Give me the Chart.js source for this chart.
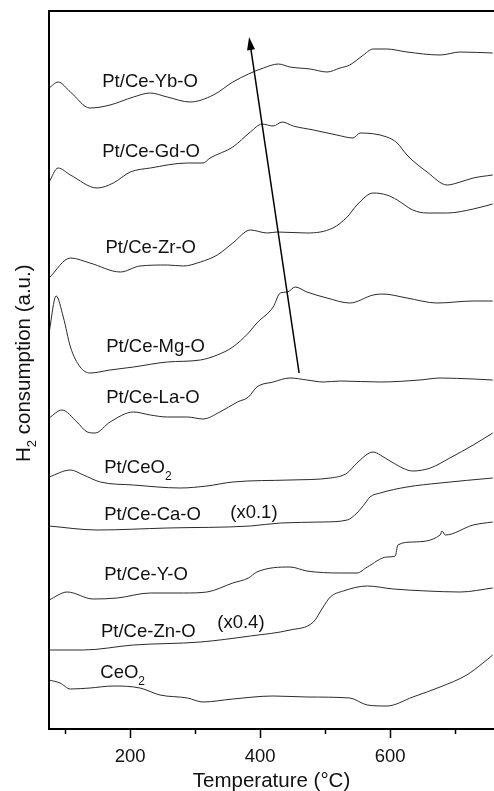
<!DOCTYPE html>
<html>
<head>
<meta charset="utf-8">
<script src="https://cdn.jsdelivr.net/npm/chart.js@4/dist/chart.umd.min.js"></script>
<style>
  body { margin: 0; background: #fff; }
  #wrap { width: 494px; height: 791px; }
</style>
</head>
<body>
<div id="wrap"><canvas id="tpr" width="494" height="791"></canvas></div>
<script>
// temperature (C) and signal (a.u., offset stacked) for each TPR profile
const ybT = [75, 89, 108, 138, 169, 205, 231, 257, 292, 328, 358, 382, 405, 428, 446, 477, 503, 523, 538, 557, 574, 595, 626, 677, 708, 758];
const ybV = [641, 647, 637, 621, 624, 632, 636, 632, 627, 634, 647, 655, 661, 665, 662, 660, 657, 661, 664, 673, 680, 680, 677, 674, 677, 676];

const gdT = [75, 89, 108, 149, 174, 200, 231, 288, 312, 323, 358, 385, 403, 420, 434, 451, 482, 518, 543, 554, 595, 611, 626, 657, 688, 703, 728, 758];
const gdV = [547, 561, 554, 541, 546, 557, 561, 566, 566, 571, 582, 597, 605, 603, 607, 603, 599, 594, 591, 596, 592, 586, 574, 557, 544, 546, 551, 554];

const zrT = [75, 108, 138, 185, 215, 257, 282, 308, 334, 358, 385, 411, 426, 472, 512, 534, 549, 574, 595, 611, 635, 657, 688, 728, 758];
const zrV = [451, 471, 466, 457, 463, 464, 463, 467, 474, 486, 499, 496, 497, 496, 501, 512, 524, 536, 534, 529, 519, 516, 516, 520, 525];

const mgT = [75, 86, 97, 108, 123, 138, 169, 205, 257, 308, 334, 358, 382, 395, 420, 431, 442, 454, 472, 503, 538, 574, 589, 626, 672, 728, 758];
const mgV = [396, 433, 412, 382, 362, 356, 359, 362, 367, 369, 374, 382, 396, 406, 422, 436, 437, 442, 437, 431, 426, 434, 435, 431, 426, 428, 428];

const laT = [75, 95, 118, 134, 146, 169, 205, 231, 257, 288, 312, 338, 365, 382, 395, 420, 446, 472, 497, 523, 585, 646, 677, 728, 758];
const laV = [311, 319, 307, 297, 296, 307, 317, 314, 312, 312, 310, 317, 327, 332, 342, 347, 351, 349, 347, 348, 347, 349, 351, 350, 349];

const ptceT = [75, 108, 128, 154, 205, 277, 318, 358, 446, 508, 534, 549, 574, 585, 605, 635, 662, 692, 728, 758];
const ptceV = [252, 259, 254, 247, 244, 241, 243, 247, 249, 251, 256, 266, 277, 274, 266, 258, 261, 271, 284, 296];

const caT = [75, 149, 257, 385, 431, 497, 534, 549, 562, 569, 585, 626, 677, 758];
const caV = [203, 199, 201, 203, 206, 207, 209, 216, 226, 232, 236, 242, 246, 251];

const yT = [75, 103, 143, 180, 231, 282, 318, 358, 382, 395, 446, 472, 523, 549, 565, 595, 608, 612, 635, 677, 680, 685, 728, 758];
const yV = [129, 137, 130, 131, 136, 136, 137, 146, 151, 157, 162, 158, 156, 156, 162, 172, 173, 184, 187, 194, 198, 194, 204, 207];

const znT = [75, 128, 205, 308, 385, 446, 482, 497, 508, 528, 565, 605, 657, 708, 758];
const znV = [79, 79, 84, 87, 93, 99, 107, 122, 132, 138, 143, 140, 138, 137, 141];

const ceT = [75, 92, 108, 138, 174, 215, 246, 288, 312, 358, 420, 472, 538, 565, 595, 635, 677, 718, 743, 758];
const ceV = [49, 46, 40, 41, 43, 41, 34, 31, 27, 30, 33, 32, 31, 24, 23, 32, 42, 54, 66, 74];

const xTicks = [100, 200, 300, 400, 500, 600, 700];
const xLabels = ['', '200', '', '400', '', '600', ''];

// curve labels: text, subscript, left edge temperature, centre signal
const curveLabels = [
  ['Pt/Ce-Yb-O', '', 157, 647],
  ['Pt/Ce-Gd-O', '', 157, 577],
  ['Pt/Ce-Zr-O', '', 162, 481],
  ['Pt/Ce-Mg-O', '', 163, 382],
  ['Pt/Ce-La-O', '', 163, 331],
  ['Pt/CeO', '2', 160, 261],
  ['Pt/Ce-Ca-O', '', 160, 214],
  ['(x0.1)', '', 354, 216],
  ['Pt/Ce-Y-O', '', 160, 154],
  ['Pt/Ce-Zn-O', '', 155, 97],
  ['(x0.4)', '', 334, 106],
  ['CeO', '2', 154, 56]
];
// arrow from (T, signal) to (T, signal)
const arrowFrom = [460, 356];
const arrowTo = [383, 692];

const FONT = "'Liberation Sans', Arial, Helvetica, sans-serif";

function pts(t, v) {
  return t.map((x, i) => ({ x: x, y: v[i] }));
}

const series = [[ybT, ybV], [gdT, gdV], [zrT, zrV], [mgT, mgV], [laT, laV],
  [ptceT, ptceV], [caT, caV], [yT, yV], [znT, znV], [ceT, ceV]];

// frame, minor ticks, labels, arrow and y title
const extras = {
  id: 'extras',
  afterDraw(chart) {
    const ctx = chart.ctx;
    const a = chart.chartArea;
    const xs = chart.scales.x, ys = chart.scales.y;
    ctx.save();
    ctx.strokeStyle = '#000';
    ctx.lineWidth = 2;
    ctx.beginPath();
    ctx.moveTo(a.left, a.bottom);
    ctx.lineTo(a.left, a.top);
    ctx.lineTo(a.right + 2, a.top);
    ctx.moveTo(a.left - 1, a.bottom);
    ctx.lineTo(a.right + 2, a.bottom);
    ctx.stroke();
    ctx.lineWidth = 1.5;
    xTicks.forEach((t, i) => {
      const px = Math.round(xs.getPixelForValue(t)) + 0.5;
      ctx.beginPath();
      ctx.moveTo(px, a.bottom);
      ctx.lineTo(px, a.bottom + (xLabels[i] ? 9 : 5));
      ctx.stroke();
    });

    ctx.fillStyle = '#111';
    ctx.textBaseline = 'middle';
    curveLabels.forEach(l => {
      const x = xs.getPixelForValue(l[2]);
      const y = ys.getPixelForValue(l[3]);
      ctx.font = '18.5px ' + FONT;
      ctx.fillText(l[0], x, y);
      if (l[1]) {
        const w = ctx.measureText(l[0]).width;
        ctx.font = '12px ' + FONT;
        ctx.fillText(l[1], x + w, y + 9);
      }
    });

    // arrow
    const x1 = xs.getPixelForValue(arrowFrom[0]), y1 = ys.getPixelForValue(arrowFrom[1]);
    const x2 = xs.getPixelForValue(arrowTo[0]), y2 = ys.getPixelForValue(arrowTo[1]);
    const ang = Math.atan2(y2 - y1, x2 - x1);
    ctx.strokeStyle = '#000';
    ctx.lineWidth = 1.5;
    ctx.beginPath();
    ctx.moveTo(x1, y1);
    ctx.lineTo(x2 - 10 * Math.cos(ang), y2 - 10 * Math.sin(ang));
    ctx.stroke();
    ctx.fillStyle = '#000';
    ctx.beginPath();
    ctx.moveTo(x2, y2);
    ctx.lineTo(x2 - 13 * Math.cos(ang) + 4 * Math.sin(ang), y2 - 13 * Math.sin(ang) - 4 * Math.cos(ang));
    ctx.lineTo(x2 - 13 * Math.cos(ang) - 4 * Math.sin(ang), y2 - 13 * Math.sin(ang) + 4 * Math.cos(ang));
    ctx.closePath();
    ctx.fill();

    // y axis title with subscript
    ctx.translate(24, 462);
    ctx.rotate(-Math.PI / 2);
    ctx.fillStyle = '#111';
    ctx.textBaseline = 'middle';
    ctx.font = '20.5px ' + FONT;
    ctx.fillText('H', 0, 0);
    let w = ctx.measureText('H').width;
    ctx.font = '13px ' + FONT;
    ctx.fillText('2', w, 8);
    w += ctx.measureText('2').width;
    ctx.font = '20.5px ' + FONT;
    ctx.fillText(' consumption (a.u.)', w, 0);
    ctx.restore();
  }
};

new Chart(document.getElementById('tpr'), {
  type: 'line',
  data: {
    datasets: series.map(s => ({
      data: pts(s[0], s[1]),
      borderColor: '#2a2a2a',
      borderWidth: 1,
      pointRadius: 0,
      cubicInterpolationMode: 'monotone',
      fill: false
    }))
  },
  options: {
    responsive: false,
    animation: false,
    events: [],
    layout: { padding: { left: 49, top: 11, right: 0, bottom: 0 } },
    plugins: { legend: { display: false }, tooltip: { enabled: false } },
    scales: {
      x: {
        type: 'linear',
        min: 75,
        max: 760,
        afterBuildTicks: s => { s.ticks = xTicks.map(v => ({ value: v })); },
        afterFit: s => { s.height = 62; },
        grid: { display: false, drawTicks: false },
        border: { display: false },
        ticks: {
          autoSkip: false,
          maxRotation: 0,
          padding: 17,
          color: '#111',
          font: { family: FONT, size: 18.5 },
          callback: (v, i) => xLabels[i]
        },
        title: {
          display: true,
          text: 'Temperature (\u00B0C)',
          color: '#111',
          font: { family: FONT, size: 20.5 },
          padding: { top: 0, bottom: -3 }
        }
      },
      y: {
        display: false,
        min: 0,
        max: 718
      }
    }
  },
  plugins: [extras]
});
</script>
</body>
</html>
